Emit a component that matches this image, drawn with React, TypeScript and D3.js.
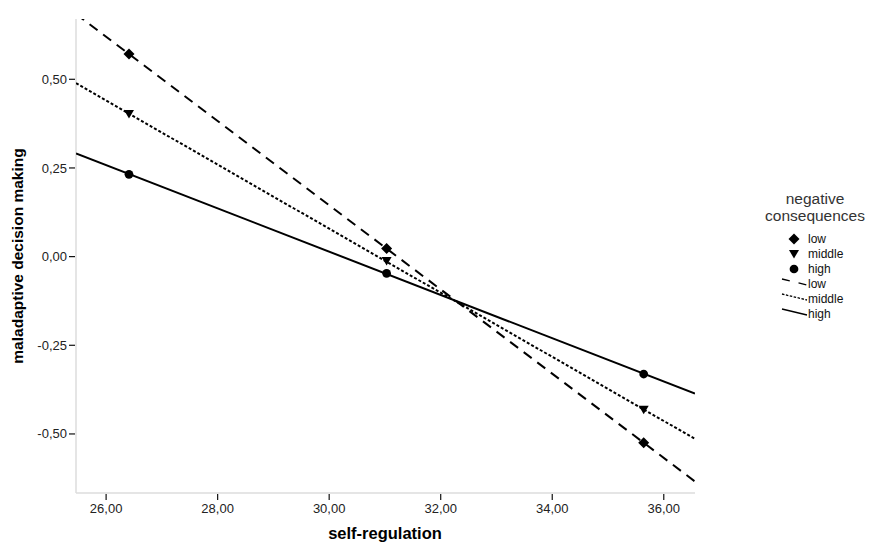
import React from "react";
import * as d3 from "d3";

const xTicks = [26, 28, 30, 32, 34, 36];
const yTicks = [-0.5, -0.25, 0, 0.25, 0.5];
const groups = ["low", "middle", "high"];
const selfRegulation = [26.41, 31.03, 35.64];
const lowValues = [0.571, 0.023, -0.525];
const middleValues = [0.402, -0.012, -0.432];
const highValues = [0.232, -0.047, -0.331];

const seriesValues = [lowValues, middleValues, highValues];
const dashes = ["10,7", "3,2", null];

const W = 879;
const H = 547;
const left = 76;
const right = 695;
const top = 19;
const bottom = 493;

const fmt = (v: number) => v.toFixed(2).replace(".", ",");

function fit(xs: number[], ys: number[]) {
  const mx = d3.mean(xs) as number;
  const my = d3.mean(ys) as number;
  let num = 0;
  let den = 0;
  xs.forEach((x, i) => {
    num += (x - mx) * (ys[i] - my);
    den += (x - mx) * (x - mx);
  });
  const b = num / den;
  return (x: number) => my + b * (x - mx);
}

function markerPath(i: number) {
  if (i === 0) return "M0,-5.5L5.5,0L0,5.5L-5.5,0Z";
  if (i === 1) return "M-5,-4L5,-4L0,4.5Z";
  return d3.symbol().type(d3.symbolCircle).size(60)() as string;
}

export default function App() {
  const x = d3.scaleLinear().domain([25.46, 36.56]).range([left, right]);
  const y = d3.scaleLinear().domain([-0.6665, 0.67]).range([bottom, top]);
  const [x0, x1] = x.domain();

  const line = d3
    .line<[number, number]>()
    .x((d) => x(d[0]))
    .y((d) => y(d[1]));

  const tickColor = "#222";
  const fontFamily = "'Liberation Sans', Arial, sans-serif";

  return (
    <svg
      width={W}
      height={H}
      style={{ position: "absolute", left: 0, top: 0, background: "#fff" }}
      fontFamily={fontFamily}
    >
      <defs>
        <clipPath id="plotClip">
          <rect x={left} y={top} width={right - left} height={bottom - top} />
        </clipPath>
      </defs>
      <rect x={0} y={0} width={W} height={H} fill="#fff" />

      {/* axes */}
      <line x1={left} x2={left} y1={top} y2={bottom} stroke="#dcdcdc" strokeWidth={1.5} />
      <line x1={left} x2={right} y1={bottom} y2={bottom} stroke="#dcdcdc" strokeWidth={1.5} />

      {yTicks.map((t) => (
        <g key={"y" + t}>
          <line x1={left - 7} x2={left - 1} y1={y(t)} y2={y(t)} stroke="#111" strokeWidth={1.2} />
          <text x={left - 9} y={y(t)} dy="0.35em" textAnchor="end" fontSize={13} fill={tickColor}>
            {fmt(t)}
          </text>
        </g>
      ))}
      {xTicks.map((t) => (
        <g key={"x" + t}>
          <line x1={x(t)} x2={x(t)} y1={bottom + 1} y2={bottom + 7} stroke="#111" strokeWidth={1.2} />
          <text x={x(t)} y={bottom + 20} textAnchor="middle" fontSize={13} fill={tickColor}>
            {fmt(t)}
          </text>
        </g>
      ))}

      <text x={385} y={539} textAnchor="middle" fontSize={16.5} fontWeight="bold" fill="#000">
        self-regulation
      </text>
      <text
        transform={`translate(23,256) rotate(-90)`}
        textAnchor="middle"
        fontSize={15.5}
        fontWeight="bold"
        fill="#000"
      >
        maladaptive decision making
      </text>

      {/* fit lines */}
      <g clipPath="url(#plotClip)">
        {seriesValues.map((vals, i) => {
          const f = fit(selfRegulation, vals);
          const pts: [number, number][] = [
            [x0, f(x0)],
            [x1, f(x1)],
          ];
          return (
            <path
              key={"l" + i}
              d={line(pts) as string}
              fill="none"
              stroke="#000"
              strokeWidth={2}
              strokeDasharray={dashes[i] ?? undefined}
            />
          );
        })}
      </g>

      {/* markers */}
      {seriesValues.map((vals, i) =>
        vals.map((v, j) => (
          <path
            key={"m" + i + "-" + j}
            d={markerPath(i)}
            transform={`translate(${x(selfRegulation[j])},${y(v)})`}
            fill="#000"
          />
        ))
      )}

      {/* legend */}
      <text x={815} y={204} textAnchor="middle" fontSize={15.5} fill="#333">
        negative
      </text>
      <text x={815} y={221} textAnchor="middle" fontSize={15.5} fill="#333">
        consequences
      </text>
      {groups.map((g, i) => (
        <g key={"lm" + g} transform={`translate(0,${i * 15})`}>
          <path d={markerPath(i)} transform={`translate(794,239)`} fill="#000" />
          <text x={808} y={243} fontSize={12} fill="#111">
            {g}
          </text>
        </g>
      ))}
      {groups.map((g, i) => (
        <g key={"ll" + g} transform={`translate(0,${i * 15})`}>
          <line
            x1={782}
            y1={279}
            x2={807}
            y2={285}
            stroke="#000"
            strokeWidth={1.3}
            strokeDasharray={dashes[i] ? (i === 0 ? "8,9" : "2.5,1.5") : undefined}
          />
          <text x={808} y={288} fontSize={12} fill="#111">
            {g}
          </text>
        </g>
      ))}
    </svg>
  );
}
